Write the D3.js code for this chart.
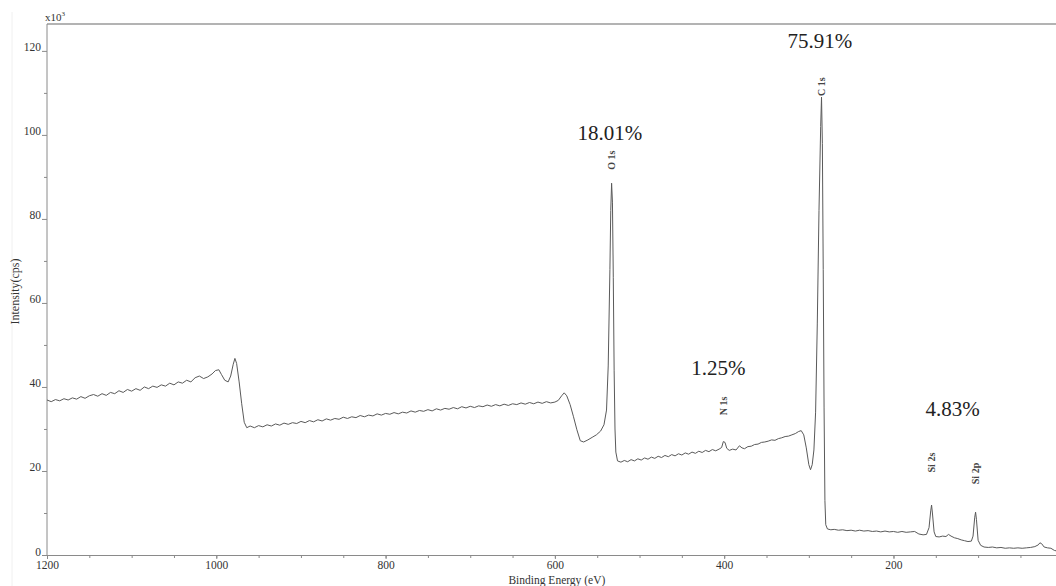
<!DOCTYPE html>
<html lang="en">
<head>
<meta charset="UTF-8">
<title>XPS survey spectrum</title>
<script src="https://d3js.org/d3.v7.min.js"></script>
<style>
  body { margin: 0; background: #fff; }
  svg { display: block; }
  text { font-family: "Liberation Serif", "DejaVu Serif", serif; fill: #333; }
  .axis path, .axis line { stroke: #8a8a8a; }
</style>
</head>
<body>
<svg width="1056" height="586"></svg>
<script>
// survey spectrum: [binding energy (eV), intensity (x10^3 cps)]
const survey = [
  [1200,36.9],[1195,36.5],[1190,37.0],[1185,36.7],[1180,37.2],[1175,36.9],[1170,37.4],[1165,37.1],[1160,37.7],[1155,37.3],
  [1150,37.9],[1145,38.2],[1140,37.8],[1135,38.4],[1130,38.0],[1125,38.7],[1120,38.4],[1115,39.1],[1110,38.7],[1105,39.4],
  [1100,39.0],[1095,39.6],[1090,39.2],[1085,40.0],[1080,39.6],[1075,40.2],[1070,39.9],[1065,40.5],[1060,40.2],[1055,40.9],
  [1050,40.5],[1045,41.2],[1040,40.9],[1035,41.6],[1030,41.2],[1025,42.2],[1020,42.6],[1015,42.0],[1010,42.4],[1005,43.1],
  [1001,43.9],[997,44.1],[994,43.0],[990,41.6],[986,41.2],[983,42.6],[980,45.4],[978,46.8],[976,45.6],[973,41.2],
  [970,36.0],[967,31.6],[964,30.3],[960,30.7],[955,30.3],[950,30.8],[945,30.5],[940,31.0],[935,30.7],[930,31.2],
  [925,30.9],[920,31.4],[915,31.1],[910,31.5],[905,31.3],[900,31.8],[895,31.5],[890,32.0],[885,31.7],[880,32.2],
  [875,31.9],[870,32.4],[865,32.1],[860,32.5],[855,32.3],[850,32.8],[845,32.5],[840,32.9],[835,32.7],[830,33.2],
  [825,32.9],[820,33.3],[815,33.1],[810,33.6],[805,33.3],[800,33.7],[795,33.5],[790,33.9],[785,33.6],[780,34.0],
  [775,33.8],[770,34.3],[765,34.0],[760,34.4],[755,34.2],[750,34.6],[745,34.3],[740,34.8],[735,34.5],[730,34.9],
  [725,34.7],[720,35.1],[715,34.8],[710,35.3],[705,35.0],[700,35.4],[695,35.1],[690,35.5],[685,35.3],[680,35.7],
  [675,35.4],[670,35.8],[665,35.5],[660,35.9],[655,35.6],[650,36.0],[645,35.8],[640,36.2],[635,35.9],[630,36.3],
  [625,36.0],[620,36.4],[615,36.1],[610,36.5],[605,36.2],[600,36.4],[596,36.8],[592,37.9],[589,38.6],[586,37.9],
  [582,35.8],[578,32.9],[574,29.8],[570,27.2],[566,26.9],[561,27.4],[556,28.0],[551,28.6],[546,29.5],[542,31.0],
  [539,34.5],[537,45.0],[535,68.0],[534,82.0],[533,88.5],[532,84.0],[531,66.0],[530,44.0],[529,30.0],[528,24.5],
  [526,22.4],[522,22.1],[518,22.5],[514,22.2],[510,22.7],[506,22.4],[502,22.9],[498,22.6],[494,23.1],[490,22.8],
  [486,23.3],[482,23.0],[478,23.5],[474,23.2],[470,23.7],[466,23.4],[462,23.9],[458,23.6],[454,24.1],[450,23.8],
  [446,24.3],[442,24.0],[438,24.5],[434,24.2],[430,24.7],[426,24.4],[422,24.9],[418,24.6],[414,25.1],[410,24.8],
  [406,25.2],[403,25.6],[401,27.0],[399,26.8],[397,25.4],[394,24.9],[390,25.2],[386,25.0],[382,26.0],[379,25.5],
  [376,25.3],[372,25.8],[368,25.9],[364,26.3],[360,26.4],[356,26.8],[352,26.9],[348,27.1],[344,27.4],[340,27.3],
  [336,27.7],[332,27.9],[328,28.2],[324,28.3],[320,28.6],[316,28.9],[312,29.4],[309,29.6],[306,28.6],[303,25.5],
  [300,21.5],[298,20.3],[296,21.5],[294,25.0],[292,34.0],[290,55.0],[288,82.0],[286,102.0],[285,109.0],[284,98.0],
  [283,68.0],[282,35.0],[281,13.0],[280,7.2],[278,6.2],[274,6.0],[270,6.1],[265,5.9],[260,6.0],[255,5.8],
  [250,5.9],[245,5.7],[240,5.9],[235,5.7],[230,5.8],[225,5.6],[220,5.7],[215,5.5],[210,5.7],[205,5.5],
  [200,5.6],[195,5.4],[190,5.6],[185,5.4],[180,5.5],[175,5.6],[170,5.0],[165,4.8],[161,4.9],[158,6.5],
  [156,10.5],[155,11.9],[154,10.0],[152,5.5],[150,4.4],[146,4.3],[142,4.5],[138,4.4],[135,4.9],[132,4.5],
  [128,4.1],[124,3.9],[120,3.6],[116,3.4],[112,3.2],[108,3.3],[106,4.5],[104,9.0],[103,10.2],[102,8.5],
  [100,3.5],[97,2.3],[93,1.9],[88,1.8],[83,1.9],[78,1.7],[73,1.8],[68,1.6],[63,1.7],[58,1.6],
  [53,1.7],[48,1.6],[43,1.7],[38,1.8],[33,2.0],[29,2.4],[27,2.9],[25,2.7],[22,1.9],[18,1.7],
  [14,1.6],[10,1.1],[8,1.0]
];

// peak assignments: name, peak energy, where the rotated label sits (intensity)
const peakNames  = ["O 1s", "N 1s", "C 1s", "Si 2s", "Si 2p"];
const peakEnergy = [533, 400, 285, 155, 103];
const peakLabelY = [94, 35.5, 111.5, 22, 19.4];

// atomic percentages written above the peaks
const pctText   = ["18.01%", "1.25%", "75.91%", "4.83%"];
const pctEnergy = [535, 407, 287, 130];
const pctLevel  = [98.8, 42.9, 120.7, 33.1];

const xMajor = [1200, 1000, 800, 600, 400, 200];
const xMinor = d3.range(1150, 0, -50);
const yMajor = [0, 20, 40, 60, 80, 100, 120];
const yMinor = [10, 30, 50, 70, 90, 110];

const svg = d3.select("svg");
const m = { left: 47, right: 1056, top: 24, bottom: 555 };

const x = d3.scaleLinear().domain([1200, 8]).range([m.left, m.right]);
const y = d3.scaleLinear().domain([0, 126.4]).range([m.bottom, m.top]);

// faint scan edge on the far left
svg.append("line")
  .attr("x1", 12).attr("x2", 12).attr("y1", 12).attr("y2", 586)
  .attr("stroke", "#f0f0f0");

// top frame
svg.append("line")
  .attr("x1", m.left).attr("x2", m.right).attr("y1", m.top).attr("y2", m.top)
  .attr("stroke", "#9a9a9a").attr("stroke-width", 1.5);

// x axis
const gx = svg.append("g").attr("class", "axis")
  .attr("transform", `translate(0,${m.bottom})`)
  .call(d3.axisBottom(x).tickValues(xMajor).tickFormat(d3.format("d"))
    .tickSize(4).tickSizeOuter(0).tickPadding(2));
gx.selectAll("text").style("font-size", "11.5px");
svg.append("g").attr("class", "axis")
  .attr("transform", `translate(0,${m.bottom})`)
  .call(d3.axisBottom(x).tickValues(xMinor).tickSize(3).tickFormat(""))
  .select(".domain").remove();

// y axis
const gy = svg.append("g").attr("class", "axis")
  .attr("transform", `translate(${m.left},0)`)
  .call(d3.axisLeft(y).tickValues(yMajor).tickSize(5).tickSizeOuter(0).tickPadding(1));
gy.select(".domain").attr("d", `M0,${m.top}V${m.bottom}`);
gy.selectAll("text").style("font-size", "11.5px").attr("dy", "0");
svg.append("g").attr("class", "axis")
  .attr("transform", `translate(${m.left},0)`)
  .call(d3.axisLeft(y).tickValues(yMinor).tickSize(3).tickFormat(""))
  .select(".domain").remove();

// scale factor and axis titles
const sf = svg.append("text").attr("x", m.left - 2).attr("y", 21).style("font-size", "11px");
sf.append("tspan").text("x10");
sf.append("tspan").attr("dy", -5).style("font-size", "7px").text("3");

svg.append("text")
  .attr("x", x(600) + 2).attr("y", 584)
  .attr("text-anchor", "middle")
  .style("font-size", "11.5px")
  .text("Binding Energy (eV)");

svg.append("text")
  .attr("transform", `translate(19,${(m.top + m.bottom) / 2 + 2}) rotate(-90)`)
  .attr("text-anchor", "middle")
  .style("font-size", "12px")
  .text("Intensity(cps)");

// spectrum
svg.append("defs").append("clipPath").attr("id", "plot")
  .append("rect").attr("x", m.left).attr("y", m.top)
  .attr("width", m.right - m.left).attr("height", m.bottom - m.top);

const line = d3.line().x(d => x(d[0])).y(d => y(d[1]));
svg.append("path")
  .datum(survey)
  .attr("clip-path", "url(#plot)")
  .attr("fill", "none")
  .attr("stroke", "#5a5a5a")
  .attr("stroke-width", 1)
  .attr("stroke-linejoin", "round")
  .attr("d", line);

// peak labels, rotated
peakNames.forEach((name, i) => {
  svg.append("text")
    .attr("transform", `translate(${x(peakEnergy[i]) + 3},${y(peakLabelY[i])}) rotate(-90)`)
    .attr("text-anchor", "middle")
    .style("font-size", "10px")
    .style("font-weight", "bold")
    .style("fill", "#444")
    .text(name);
});

// percentages
pctText.forEach((t, i) => {
  svg.append("text")
    .attr("x", x(pctEnergy[i])).attr("y", y(pctLevel[i]))
    .attr("text-anchor", "middle")
    .style("font-family", "'Liberation Serif', 'DejaVu Serif', serif")
    .style("font-size", "21px")
    .style("fill", "#222")
    .text(t);
});
</script>
</body>
</html>
